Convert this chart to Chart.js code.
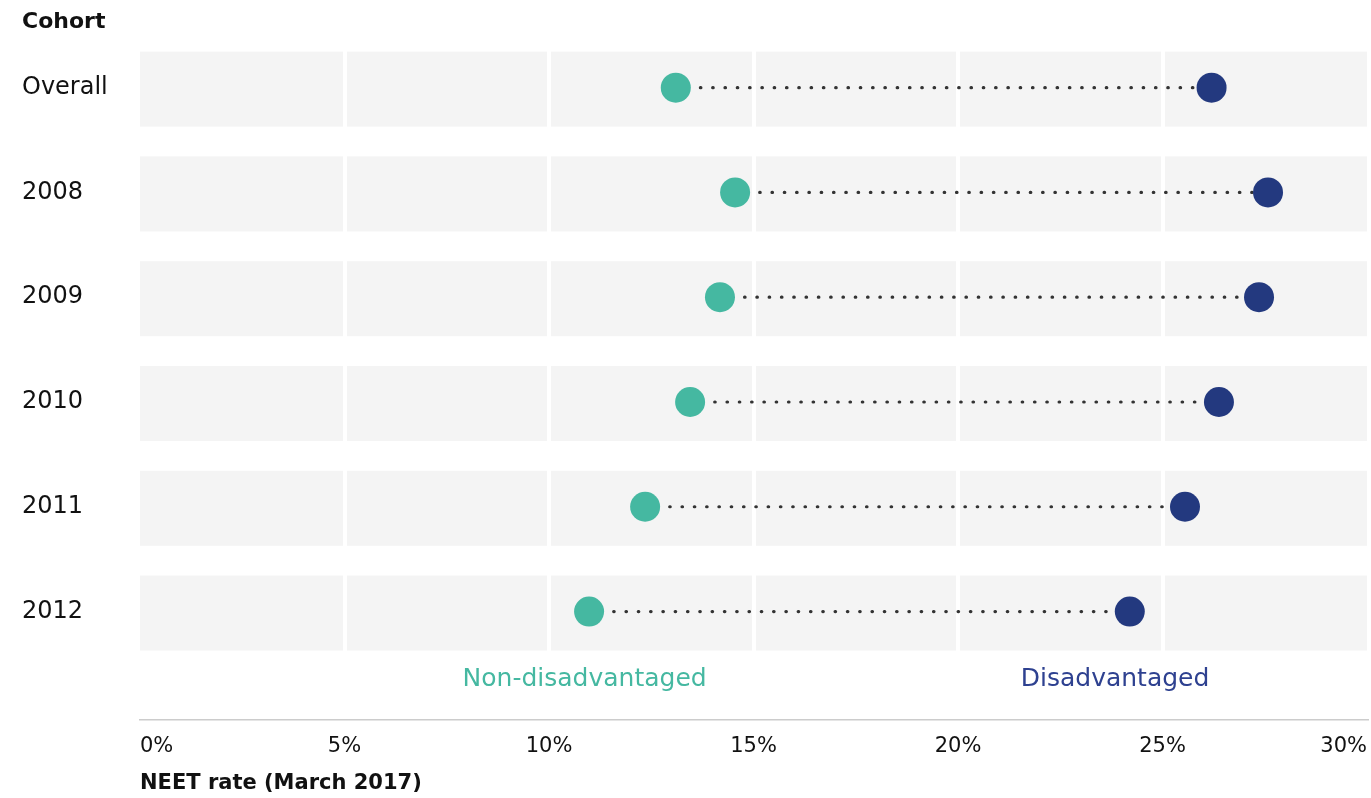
<!DOCTYPE html>
<html>
<head>
<meta charset="utf-8">
<script src="https://cdn.jsdelivr.net/npm/chart.js@4.4.0/dist/chart.umd.min.js"></script>
<style>
    html, body { margin: 0; padding: 0; background: #fff; overflow: hidden; }
    #wrap { width: 1371px; height: 798px; position: relative; }
    canvas { display: block; }
</style>
</head>
<body>
<div id="wrap"><canvas id="neet-chart"></canvas></div>
<script>
// Cohorts (rows, top to bottom) and NEET rates in percent
const cohorts = ['Overall', '2008', '2009', '2010', '2011', '2012'];
const nonDisadvantaged = [13.1, 14.55, 14.18, 13.45, 12.35, 10.98];
const disadvantaged = [26.2, 27.58, 27.36, 26.38, 25.55, 24.2];
const xTicks = [0, 5, 10, 15, 20, 25, 30];

const FONT = "'DejaVu Sans', sans-serif";
const GREEN = '#45b8a1';
const BLUE = '#23397f';

/**
 * Draws the grey row bands, the "Cohort" heading and series labels
 */
const decorPlugin = {
    id: 'decor',
    beforeDraw(chart) {
        const { ctx, chartArea, scales } = chart;
        ctx.save();
        ctx.fillStyle = '#f4f4f4';
        cohorts.forEach(function(c, i) {
            const y = scales.y.getPixelForValue(i);
            ctx.fillRect(chartArea.left, y - 36, chartArea.width, 75);
        });
        ctx.restore();
    },
    afterDraw(chart) {
        const { ctx, scales } = chart;
        ctx.save();
        ctx.textBaseline = 'middle';
        ctx.fillStyle = '#111';
        ctx.font = 'bold 22px ' + FONT;
        ctx.textAlign = 'left';
        ctx.fillText('Cohort', 22, 22);

        // series labels under the last row
        const y = scales.y.getPixelForValue(5.65);
        ctx.font = '25px ' + FONT;
        ctx.textAlign = 'center';
        ctx.fillStyle = GREEN;
        ctx.fillText('Non-disadvantaged', scales.x.getPixelForValue(10.87), y);
        ctx.fillStyle = '#2e4190';
        ctx.fillText('Disadvantaged', scales.x.getPixelForValue(23.84), y);
        ctx.restore();
    }
};

document.addEventListener('DOMContentLoaded', function() {
    createDumbbellChart(document.getElementById('neet-chart'));

    function createDumbbellChart(canvas) {
        const datasets = [];

        // dotted connectors, one per cohort
        cohorts.forEach(function(c, i) {
            datasets.push({
                data: [{ x: nonDisadvantaged[i], y: i }, { x: disadvantaged[i], y: i }],
                showLine: true,
                borderColor: '#333',
                borderWidth: 3.2,
                borderDash: [0.5, 11.8],
                borderCapStyle: 'round',
                pointRadius: 0,
                order: 2
            });
        });

        datasets.push({
            label: 'Non-disadvantaged',
            data: nonDisadvantaged.map(function(v, i) { return { x: v, y: i }; }),
            backgroundColor: GREEN,
            borderWidth: 0,
            pointRadius: 15,
            pointHoverRadius: 15,
            order: 1
        });
        datasets.push({
            label: 'Disadvantaged',
            data: disadvantaged.map(function(v, i) { return { x: v, y: i }; }),
            backgroundColor: BLUE,
            borderWidth: 0,
            pointRadius: 15,
            pointHoverRadius: 15,
            order: 1
        });

        new Chart(canvas, {
            type: 'scatter',
            data: { datasets: datasets },
            options: {
                responsive: true,
                maintainAspectRatio: false,
                animation: false,
                layout: { autoPadding: false, padding: { left: 22, right: 4, top: 30, bottom: 0 } },
                plugins: {
                    legend: { display: false },
                    tooltip: { enabled: false }
                },
                scales: {
                    x: {
                        type: 'linear',
                        min: 0,
                        max: 30,
                        afterBuildTicks: function(scale) {
                            scale.ticks = xTicks.map(function(v) { return { value: v }; });
                        },
                        afterFit: function(scale) {
                            scale.height = 78;
                            // labels are aligned inward, so no overflow padding
                            scale.paddingLeft = 0;
                            scale.paddingRight = 0;
                        },
                        grid: {
                            drawTicks: false,
                            lineWidth: 4,
                            color: function(ctx) {
                                const v = ctx.tick && ctx.tick.value;
                                return (v === 0 || v === 30) ? 'rgba(0,0,0,0)' : '#ffffff';
                            }
                        },
                        border: { color: '#cccccc', width: 1.5 },
                        ticks: {
                            align: 'inner',
                            padding: 14,
                            color: '#111',
                            font: { family: FONT, size: 21 },
                            callback: function(v) { return v + '%'; }
                        },
                        title: {
                            display: true,
                            text: 'NEET rate (March 2017)',
                            align: 'start',
                            color: '#111',
                            font: { family: FONT, size: 21, weight: 'bold' },
                            padding: { top: 0, bottom: 2 }
                        }
                    },
                    y: {
                        type: 'linear',
                        reverse: true,
                        min: -0.55,
                        max: 6.035,
                        afterBuildTicks: function(scale) {
                            scale.ticks = cohorts.map(function(c, i) { return { value: i }; });
                        },
                        afterFit: function(scale) {
                            scale.width = 118;
                            scale.paddingTop = 0;
                            scale.paddingBottom = 0;
                        },
                        grid: { display: false },
                        border: { display: false },
                        ticks: {
                            crossAlign: 'far',
                            padding: 0,
                            color: '#111',
                            font: { family: FONT, size: 24 },
                            callback: function(v) { return cohorts[v]; }
                        }
                    }
                }
            },
            plugins: [decorPlugin]
        });
    }
});
</script>
</body>
</html>
